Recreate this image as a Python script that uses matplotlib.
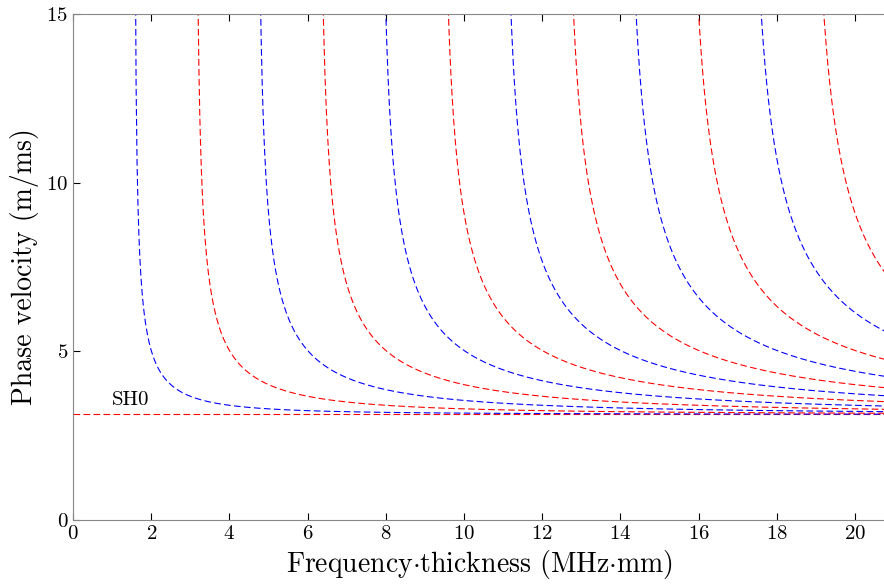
import numpy as np
import matplotlib
matplotlib.use("Agg")
import matplotlib.pyplot as plt

plt.rcParams['font.family'] = 'serif'
plt.rcParams['font.serif'] = ['cmr10']
plt.rcParams['mathtext.fontset'] = 'cm'
plt.rcParams['axes.formatter.use_mathtext'] = True

# bulk shear velocity (m/ms) and SH mode orders
c_t = 3.13
modes = list(range(0, 13))
mode_colors = ['red' if n % 2 == 0 else 'blue' for n in modes]
x_ticks = [0, 2, 4, 6, 8, 10, 12, 14, 16, 18, 20]
y_ticks = [0, 5, 10, 15]

fig = plt.figure(figsize=(8.84, 5.88), dpi=100)
# axes box runs a touch past the right edge of the canvas
ax = fig.add_axes([0.0826, 0.1156, 0.9200, 0.8605])

fd_max = 20.80
for n, col in zip(modes, mode_colors):
    if n == 0:
        fd = np.array([0.0, fd_max])
        cp = np.full_like(fd, c_t)
    else:
        fc = n * c_t / 2.0
        fd = np.linspace(fc * 1.0001, fd_max, 800)
        cp = c_t / np.sqrt(1.0 - (fc / fd) ** 2)
    ax.plot(fd, cp, color=col, lw=0.8, dashes=(6, 3))

ax.text(1.0, 3.4, 'SH0', fontsize=15)

ax.set_xlim(0, fd_max)
ax.set_ylim(0, 15)
ax.set_xticks(x_ticks)
ax.set_yticks(y_ticks)
ax.tick_params(direction='in', top=True, right=False, length=5,
               labelsize=15, color='black')
for s in ax.spines.values():
    s.set_color('#888888')
    s.set_linewidth(0.8)

ax.set_xlabel(r'Frequency$\cdot$thickness (MHz$\cdot$mm)', fontsize=20, labelpad=4)
ax.set_ylabel('Phase velocity (m/ms)', fontsize=20, labelpad=5)

fig.savefig('out.png', dpi=100)
